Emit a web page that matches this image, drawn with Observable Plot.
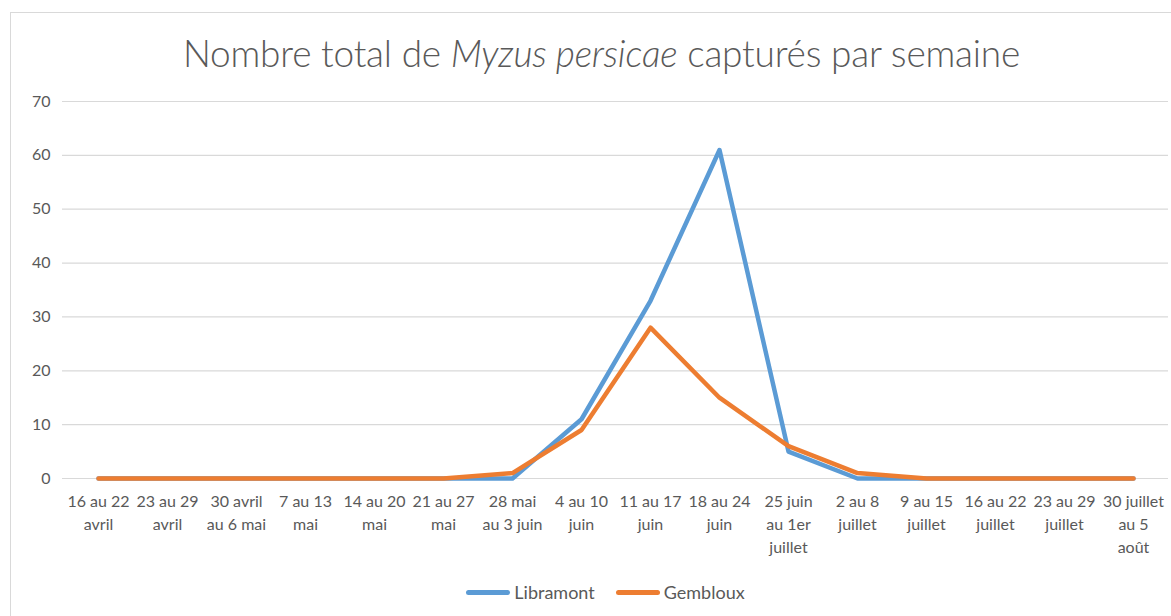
<!DOCTYPE html>
<html>
<head>
<meta charset="utf-8">
<script src="https://cdn.jsdelivr.net/npm/d3@7"></script>
<script src="https://cdn.jsdelivr.net/npm/@observablehq/plot@0.6"></script>
<style>
  html, body { margin: 0; padding: 0; background: #fff; }
  #wrap { position: relative; width: 1171px; height: 616px; overflow: hidden; font-family: Lato, "Open Sans", sans-serif; }
  #frame { position: absolute; left: 10px; top: 12px; width: 1170px; height: 620px; border: 1px solid #d9d9d9; box-sizing: border-box; }
  #title { position: absolute; left: 0; width: 1203px; top: 30px; text-align: center; font-size: 37px; color: #595959; font-weight: 300; letter-spacing: -0.2px; }
  #chart { position: absolute; left: 0; top: 80px; }
  #legend { position: absolute; top: 581px; left: 20px; width: 1171px; display: flex; justify-content: center; gap: 21px; font-size: 18px; color: #595959; }
  .item { display: flex; align-items: center; }
  .sw { display: inline-block; width: 44px; height: 5px; border-radius: 2.5px; margin-right: 4px; }
</style>
</head>
<body>
<div id="wrap">
  <div id="frame"></div>
  <div id="title">Nombre total de <i>Myzus persicae</i> capturés par semaine</div>
  <div id="chart"></div>
  <div id="legend"></div>
</div>
<script>
const categories = [
  "16 au 22 avril", "23 au 29 avril", "30 avril au 6 mai", "7 au 13 mai",
  "14 au 20 mai", "21 au 27 mai", "28 mai au 3 juin", "4 au 10 juin",
  "11 au 17 juin", "18 au 24 juin", "25 juin au 1er juillet", "2 au 8 juillet",
  "9 au 15 juillet", "16 au 22 juillet", "23 au 29 juillet", "30 juillet au 5 août"
];
const tickLabels = [
  "16 au 22\navril", "23 au 29\navril", "30 avril\nau 6 mai", "7 au 13\nmai",
  "14 au 20\nmai", "21 au 27\nmai", "28 mai\nau 3 juin", "4 au 10\njuin",
  "11 au 17\njuin", "18 au 24\njuin", "25 juin\nau 1er\njuillet", "2 au 8\njuillet",
  "9 au 15\njuillet", "16 au 22\njuillet", "23 au 29\njuillet", "30 juillet\nau 5\naoût"
];
const libramont = [0, 0, 0, 0, 0, 0, 0, 11, 33, 61, 5, 0, 0, 0, 0, 0];
const gembloux  = [0, 0, 0, 0, 0, 0, 1, 9, 28, 15, 6, 1, 0, 0, 0, 0];
const yTicks = [0, 10, 20, 30, 40, 50, 60, 70];
const seriesNames = ["Libramont", "Gembloux"];
const seriesColors = ["#5B9BD5", "#ED7D31"];

const rows = [];
categories.forEach((c, i) => {
  rows.push({cat: c, value: libramont[i], series: "Libramont"});
  rows.push({cat: c, value: gembloux[i], series: "Gembloux"});
});
const labelOf = new Map(categories.map((c, i) => [c, tickLabels[i]]));

const chart = Plot.plot({
  width: 1171,
  height: 490,
  marginLeft: 62,
  marginRight: 3,
  marginTop: 21,
  marginBottom: 92,
  style: {fontFamily: "Lato, 'Open Sans', sans-serif", fontSize: "16px", color: "#595959", background: "transparent"},
  x: {type: "point", domain: categories, padding: 0.5},
  y: {domain: [0, 70]},
  color: {domain: seriesNames, range: seriesColors},
  marks: [
    Plot.gridY(yTicks, {stroke: "#d9d9d9", strokeOpacity: 1, strokeWidth: 1.2}),
    Plot.axisY(yTicks, {tickSize: 0, tickPadding: 12, label: null, fontSize: 16, fill: "#595959"}),
    Plot.axisX({tickSize: 0, tickPadding: 12, label: null, tickFormat: d => labelOf.get(d), fontSize: 16, fill: "#595959", lineHeight: 1.45}),
    Plot.line(rows, {x: "cat", y: "value", z: "series", stroke: "series", strokeWidth: 4.5, strokeLinejoin: "round", strokeLinecap: "round"})
  ]
});
document.getElementById("chart").appendChild(chart);

const legend = document.getElementById("legend");
seriesNames.forEach((n, i) => {
  const it = document.createElement("div");
  it.className = "item";
  it.innerHTML = `<span class="sw" style="background:${seriesColors[i]}"></span><span>${n}</span>`;
  legend.appendChild(it);
});
</script>
</body>
</html>
